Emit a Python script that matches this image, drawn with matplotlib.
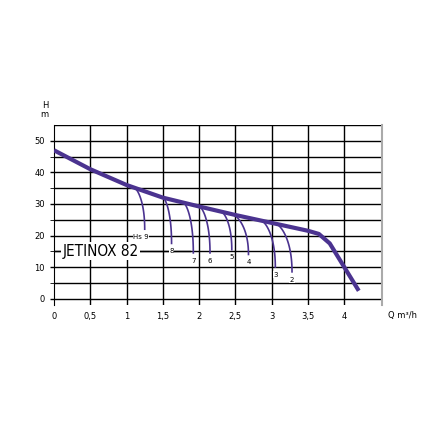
import numpy as np
import matplotlib.pyplot as plt

# main pump curve Q (m3/h) -> H (m)
main_q = [0, 0.5, 1.0, 1.5, 2.0, 2.5, 3.0, 3.5, 3.65, 3.8, 4.0, 4.2]
main_h = [47, 41, 36, 32, 29.2, 26.5, 24, 21.5, 20.5, 17.5, 10, 2.5]

# suction-height branches: start Q, end Q, end H, label
branch_start = [1.1, 1.5, 1.78, 2.0, 2.3, 2.45, 2.85, 3.05]
branch_end_q = [1.25, 1.62, 1.92, 2.15, 2.45, 2.68, 3.05, 3.28]
branch_end_h = [22, 17.5, 14.5, 14.5, 15.5, 14, 10, 8.5]
branch_labels = ['Hs 9', '8', '7', '6', '5', '4', '3', '2']

color = '#4b3390'

fig = plt.figure(figsize=(4.23, 4.23), dpi=100)
ax = fig.add_axes([54/423, 1 - 305/423, (382-54)/423, (305-125)/423])
ax.set_xlim(0, 4.52)
ax.set_ylim(-2, 55)

for x in np.arange(0.5, 4.5, 0.5):
    ax.axvline(x, color='black', lw=1.0)
for y in np.arange(0, 60, 5):
    ax.axhline(y, color='black', lw=1.0)

ax.plot(main_q, main_h, color=color, lw=3, solid_capstyle='butt', zorder=4)

for q0, q1, h1, lab in zip(branch_start, branch_end_q, branch_end_h, branch_labels):
    h0 = np.interp(q0, main_q, main_h)
    t = np.linspace(0, 1, 30)
    q = q0 + (q1 - q0) * np.sin(t * np.pi / 2)
    h = h0 + (h1 - h0) * t ** 1.6
    ax.plot(q, h, color=color, lw=1.2, zorder=3)
    ax.text(q1 + (0.0 if lab != 'Hs 9' else -0.05), h1 - 1.5, lab, fontsize=5,
            ha='center', va='top', zorder=5,
            bbox=dict(facecolor='white', edgecolor='none', pad=0.3))

ax.plot([0.02, 1.88], [15, 15], color='black', lw=1, zorder=2)
ax.text(0.12, 15, 'JETINOX 82', fontsize=11, va='center', ha='left',
        fontstretch='condensed', zorder=5,
        bbox=dict(facecolor='white', edgecolor='none', pad=1))

ax.set_xticks([0, 0.5, 1, 1.5, 2, 2.5, 3, 3.5, 4])
ax.set_xticklabels(['0', '0,5', '1', '1,5', '2', '2,5', '3', '3,5', '4'], fontsize=6)
ax.set_yticks([0, 10, 20, 30, 40, 50])
ax.set_yticklabels(['0', '10', '20', '30', '40', '50'], fontsize=6)
ax.set_yticks(np.arange(5, 55, 10), minor=True)
ax.tick_params(axis='y', length=3, width=1)
ax.tick_params(axis='x', length=0, pad=5)
ax.tick_params(which='minor', length=3)
ax.spines['top'].set_visible(False)
ax.spines['bottom'].set_visible(False)
ax.spines['right'].set_color('#aaaaaa')
ax.spines['right'].set_linewidth(1.5)
ax.text(4.6, -4, 'Q m³/h', fontsize=6, va='top', ha='left', clip_on=False)
ax.text(-0.08, 57, 'H\nm', fontsize=6, ha='right', va='bottom', linespacing=0.9)

fig.savefig('out.png', dpi=100)
